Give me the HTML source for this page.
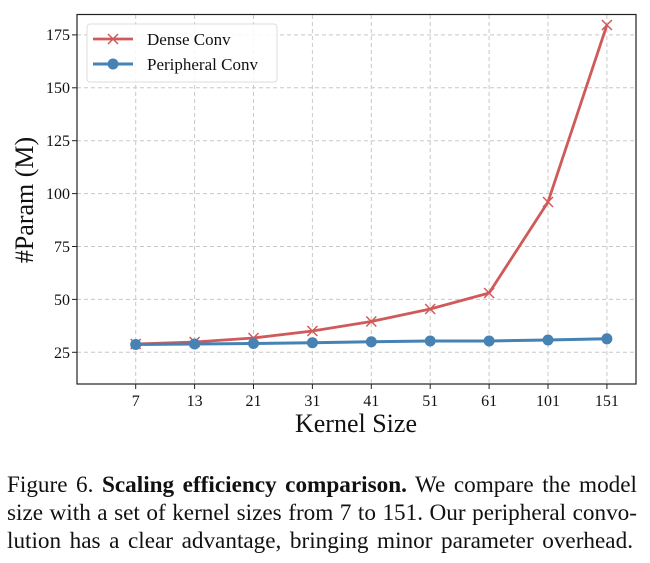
<!DOCTYPE html><html><head><style>body{margin:0;background:#fff;width:650px;height:563px;overflow:hidden}
.cap{position:absolute;left:7px;width:630px;font-family:"Liberation Serif",serif;font-size:23.2px;color:#111;white-space:nowrap;text-align:justify;text-align-last:justify}</style></head><body>
<svg width="650" height="460" style="position:absolute;left:0;top:0" font-family="Liberation Serif, serif">
<g stroke="#c8c8c8" stroke-dasharray="4,3" stroke-width="1">
<line x1="135.7" y1="15" x2="135.7" y2="384"/><line x1="194.6" y1="15" x2="194.6" y2="384"/><line x1="253.5" y1="15" x2="253.5" y2="384"/><line x1="312.4" y1="15" x2="312.4" y2="384"/><line x1="371.3" y1="15" x2="371.3" y2="384"/><line x1="430.2" y1="15" x2="430.2" y2="384"/><line x1="489.1" y1="15" x2="489.1" y2="384"/><line x1="548" y1="15" x2="548" y2="384"/><line x1="606.9" y1="15" x2="606.9" y2="384"/>
<line x1="77" y1="352.3" x2="636" y2="352.3"/><line x1="77" y1="299.4" x2="636" y2="299.4"/><line x1="77" y1="246.5" x2="636" y2="246.5"/><line x1="77" y1="193.6" x2="636" y2="193.6"/><line x1="77" y1="140.7" x2="636" y2="140.7"/><line x1="77" y1="87.8" x2="636" y2="87.8"/><line x1="77" y1="34.9" x2="636" y2="34.9"/>
</g>
<rect x="77" y="14.5" width="559" height="369.5" fill="none" stroke="#222" stroke-width="1.2"/>
<g font-size="16" fill="#111" text-anchor="end">
<text x="70" y="358">25</text><text x="70" y="305">50</text><text x="70" y="252">75</text><text x="70" y="199">100</text><text x="70" y="146">125</text><text x="70" y="93">150</text><text x="70" y="40">175</text></g>
<g stroke="#222"><line x1="72" y1="352.3" x2="77" y2="352.3"/><line x1="72" y1="299.4" x2="77" y2="299.4"/><line x1="72" y1="246.5" x2="77" y2="246.5"/><line x1="72" y1="193.6" x2="77" y2="193.6"/><line x1="72" y1="140.7" x2="77" y2="140.7"/><line x1="72" y1="87.8" x2="77" y2="87.8"/><line x1="72" y1="34.9" x2="77" y2="34.9"/>
<line x1="135.7" y1="384" x2="135.7" y2="389"/><line x1="194.6" y1="384" x2="194.6" y2="389"/><line x1="253.5" y1="384" x2="253.5" y2="389"/><line x1="312.4" y1="384" x2="312.4" y2="389"/><line x1="371.3" y1="384" x2="371.3" y2="389"/><line x1="430.2" y1="384" x2="430.2" y2="389"/><line x1="489.1" y1="384" x2="489.1" y2="389"/><line x1="548" y1="384" x2="548" y2="389"/><line x1="606.9" y1="384" x2="606.9" y2="389"/></g>
<g font-size="16" fill="#111" text-anchor="middle">
<text x="135.7" y="406">7</text><text x="194.6" y="406">13</text><text x="253.5" y="406">21</text><text x="312.4" y="406">31</text><text x="371.3" y="406">41</text><text x="430.2" y="406">51</text><text x="489.1" y="406">61</text><text x="548" y="406">101</text><text x="606.9" y="406">151</text></g>
<text x="356" y="432" font-size="26" text-anchor="middle" fill="#111">Kernel Size</text>
<text transform="translate(33,200) rotate(-90)" font-size="26" text-anchor="middle" fill="#111">#Param (M)</text>
<polyline fill="none" stroke="#d05a5a" stroke-width="2.8" points="135.7,344 194.6,342 253.5,338 312.4,331 371.3,321.5 430.2,309 489.1,293 548,202 606.9,25"/>
<g stroke="#d05a5a" stroke-width="1.5">
<path d="M130.7,339l10,10m0,-10l-10,10M189.6,337l10,10m0,-10l-10,10M248.5,333l10,10m0,-10l-10,10M307.4,326l10,10m0,-10l-10,10M366.3,316.5l10,10m0,-10l-10,10M425.2,304l10,10m0,-10l-10,10M484.1,288l10,10m0,-10l-10,10M543,197l10,10m0,-10l-10,10M601.9,20l10,10m0,-10l-10,10"/></g>
<polyline fill="none" stroke="#4682b4" stroke-width="3" points="135.7,344.5 194.6,344 253.5,343.5 312.4,342.7 371.3,341.8 430.2,341 489.1,341 548,340 606.9,338.8"/>
<g fill="#4682b4"><circle cx="135.7" cy="344.5" r="5.5"/><circle cx="194.6" cy="344" r="5.5"/><circle cx="253.5" cy="343.5" r="5.5"/><circle cx="312.4" cy="342.7" r="5.5"/><circle cx="371.3" cy="341.8" r="5.5"/><circle cx="430.2" cy="341" r="5.5"/><circle cx="489.1" cy="341" r="5.5"/><circle cx="548" cy="340" r="5.5"/><circle cx="606.9" cy="338.8" r="5.5"/></g>
<rect x="87" y="24" width="190" height="58" rx="3" fill="#fff" fill-opacity="0.85" stroke="#ddd"/>
<line x1="93" y1="39" x2="133" y2="39" stroke="#d05a5a" stroke-width="2.8"/>
<path d="M108,34l10,10m0,-10l-10,10" stroke="#d05a5a" stroke-width="1.5"/>
<line x1="93" y1="64" x2="133" y2="64" stroke="#4682b4" stroke-width="3"/>
<circle cx="113" cy="64" r="5.5" fill="#4682b4"/>
<text x="147" y="45" font-size="17" fill="#111">Dense Conv</text>
<text x="147" y="70" font-size="17" fill="#111">Peripheral Conv</text>
</svg>
<div class="cap" style="top:472px">Figure 6. <b>Scaling efficiency comparison.</b> We compare the model</div>
<div class="cap" style="top:500px">size with a set of kernel sizes from 7 to 151. Our peripheral convo-</div>
<div class="cap" style="top:528px;width:626px">lution has a clear advantage, bringing minor parameter overhead.</div>
</body></html>
